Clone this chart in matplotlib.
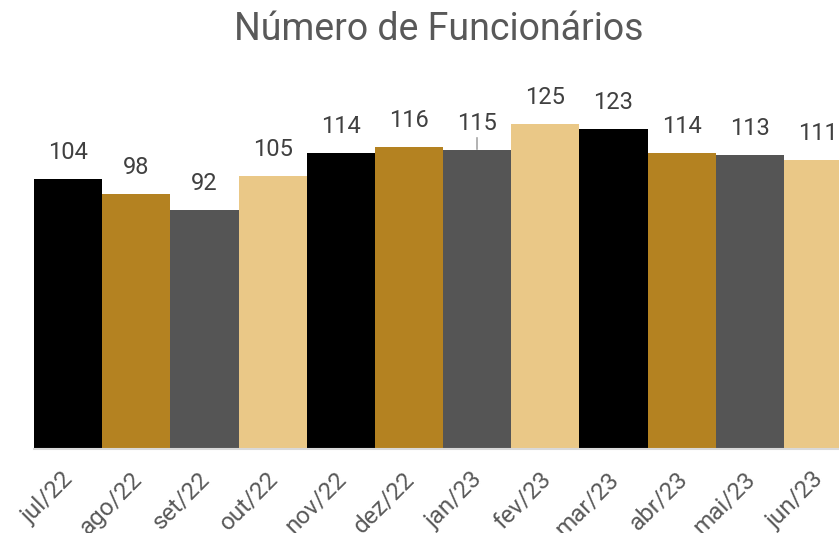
from matplotlib import pyplot as plt
import matplotlib.transforms as mtransforms
import numpy as np

plt.rcParams['font.family'] = ['Roboto', 'DejaVu Sans']

# %% Data
meses = ["jul/22", "ago/22", "set/22", "out/22", "nov/22", "dez/22",
         "jan/23", "fev/23", "mar/23", "abr/23", "mai/23", "jun/23"]
funcionarios = [104, 98, 92, 105, 114, 116, 115, 125, 123, 114, 113, 111]
cores = ["#000000", "#B48221", "#555555", "#EAC887"] * 3

# %% Figure
W, H = 839, 533
fig = plt.figure(figsize=(W / 100, H / 100), dpi=100)
# axes runs a bit past the right edge, so the last bar is clipped like the original
x0, x1 = 34, 852
y_base, y_top = 449, 59
ax = fig.add_axes([x0 / W, 1 - y_base / H, (x1 - x0) / W, (y_base - y_top) / H])

x = np.arange(len(meses))
bars = ax.bar(x, funcionarios, width=1.0, color=cores, zorder=2)
ax.set_xlim(-0.5, len(meses) - 0.5)
ax.set_ylim(0, 150)

for b, v in zip(bars, funcionarios):
    ax.text(b.get_x() + b.get_width() / 2, v + 5.8, f"{v}",
            ha='center', va='bottom', fontsize=17, color='#404040')

# small leader line on jan/23 label
i = meses.index("jan/23")
ax.plot([x[i], x[i]], [funcionarios[i] + 0.3, funcionarios[i] + 4.8],
        color='#A6A6A6', lw=1.2, zorder=1)

for s in ['top', 'right', 'left']:
    ax.spines[s].set_visible(False)
ax.spines['bottom'].set_color('#D9D9D9')
ax.spines['bottom'].set_linewidth(1.5)
ax.set_yticks([])
ax.set_xticks(x)
ax.set_xticklabels(meses, rotation=45, ha='right', rotation_mode='anchor',
                   fontsize=17.5, color='#595959')
ax.tick_params(axis='x', length=0, pad=9)
shift = mtransforms.ScaledTranslation(-6 / 100, -6 / 100, fig.dpi_scale_trans)
for lbl in ax.get_xticklabels():
    lbl.set_transform(lbl.get_transform() + shift)

fig.text(439 / W, 1 - 30 / H, "Número de Funcionários", ha='center', va='center',
         fontsize=27, color='#595959')

plt.savefig('out.png', dpi=100)
